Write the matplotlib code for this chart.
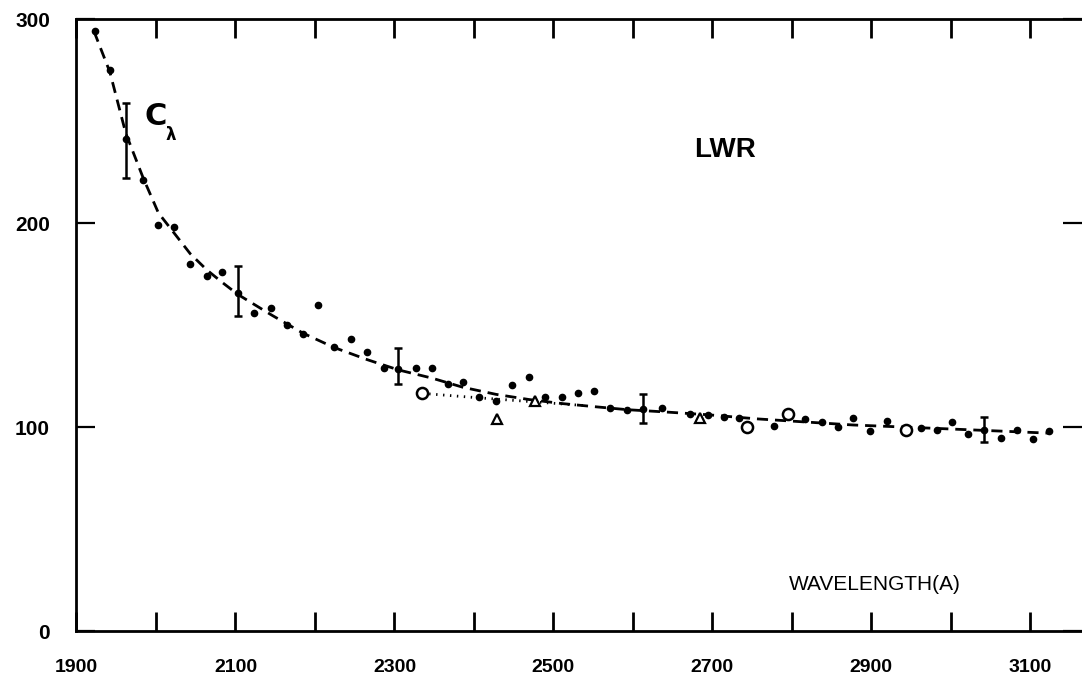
import numpy as np
import matplotlib.pyplot as plt

plt.rcParams['lines.scale_dashes'] = False

# dashed fit curve C_lambda
curve_x = [1922, 1942, 1962, 1984, 2003, 2023, 2043, 2064, 2083, 2103, 2145, 2185, 2224, 2266,
           2305, 2347, 2386, 2428, 2469, 2511, 2551, 2593, 2636, 2695, 2756, 2816, 2877, 2940,
           3002, 3063, 3123]
curve_y = [294, 274, 244, 222, 205, 195, 185, 177, 171, 165, 155, 146, 139, 133,
           128, 124, 119.5, 116, 113.5, 111.5, 110, 108.5, 107.5, 106, 104, 102.5, 101, 100,
           99, 98, 97]

# dotted branch
dot_x = [2335, 2400, 2470, 2540]
dot_y = [116.5, 114.5, 112.5, 110.5]

# filled points
pts_x = [1923, 1942, 1984, 2003, 2023, 2043, 2064, 2083, 2123, 2145, 2165, 2185, 2204, 2224,
         2245, 2266, 2287, 2327, 2347, 2368, 2386, 2406, 2428, 2448, 2469, 2490, 2511, 2531,
         2551, 2571, 2593, 2636, 2672, 2695, 2714, 2734, 2777, 2816, 2838, 2858, 2877, 2898,
         2920, 2962, 2982, 3002, 3021, 3063, 3083, 3103, 3123]
pts_y = [294, 275, 221, 199, 198, 180, 174, 176, 156, 158.5, 150, 145.5, 160, 139,
         143, 137, 129, 129, 129, 121, 122, 114.5, 113, 120.5, 124.5, 114.5, 114.5, 116.5,
         117.5, 109.5, 108.5, 109.5, 106.5, 106, 105, 104.5, 100.5, 104, 102.5, 100, 104.5, 98,
         103, 99.5, 98.5, 102.5, 96.5, 94.5, 98.5, 94, 98]

# error bars
err_x = [1962, 2103, 2305, 2613, 3042]
err_y = [241, 165.5, 128.5, 109, 98.5]
err_lo = [222, 154.5, 121, 102, 92.7]
err_hi = [259, 179, 138.5, 116, 105]

circ_x = [2335, 2744, 2795, 2943]
circ_y = [116.5, 100, 106.5, 98.5]
tri_x = [2429, 2684, 2477]
tri_y = [104, 104.5, 113]

xticks = list(range(1900, 3200, 100))
xlabels = [str(t) if (t - 1900) % 200 == 0 else '' for t in xticks]
yticks = [0, 100, 200, 300]

fig = plt.figure(figsize=(10.82, 6.85), dpi=100)
ax = fig.add_axes([0.0707, 0.0788, 0.9293, 0.8934])

ax.plot(curve_x, curve_y, color='black', lw=2, dashes=(8, 5))
ax.plot(dot_x, dot_y, color='black', lw=2, linestyle=(0, (1, 4)))
ax.plot(pts_x, pts_y, 'o', color='black', ms=4.5)
ax.errorbar(err_x, err_y,
            yerr=[np.array(err_y) - np.array(err_lo), np.array(err_hi) - np.array(err_y)],
            fmt='o', color='black', ms=4.5, elinewidth=1.8, capsize=3, capthick=1.8)
ax.plot(circ_x, circ_y, 'o', mfc='white', mec='black', ms=8, mew=1.8)
ax.plot(tri_x, tri_y, '^', mfc='white', mec='black', ms=7, mew=1.6)

ax.text(1986, 252, 'C', fontsize=22, fontweight='bold', ha='left', va='center')
ax.text(2012, 243, 'λ', fontsize=12, fontweight='bold', ha='left', va='center')
ax.text(2716, 236, 'LWR', fontsize=20, fontweight='bold', family='Liberation Sans',
        ha='center', va='center')
ax.text(2904, 23, 'WAVELENGTH(A)', fontsize=15, family='Liberation Sans',
        ha='center', va='center')

ax.set_xlim(1900, 3165)
ax.set_ylim(0, 300)
ax.set_xticks(xticks)
ax.set_xticklabels(xlabels, fontsize=14, fontweight='bold', family='Liberation Sans')
ax.set_yticks(yticks)
ax.set_yticklabels([str(t) for t in yticks], fontsize=15, fontweight='bold',
                   family='Liberation Sans')
ax.tick_params(axis='x', direction='in', length=13.5, width=2, top=True, pad=20)
ax.tick_params(axis='y', direction='in', length=14, width=1.6, right=True, pad=19)
ax.spines['right'].set_visible(False)
for s in ['left', 'bottom', 'top']:
    ax.spines[s].set_linewidth(2)

plt.savefig('out.png', dpi=100)
